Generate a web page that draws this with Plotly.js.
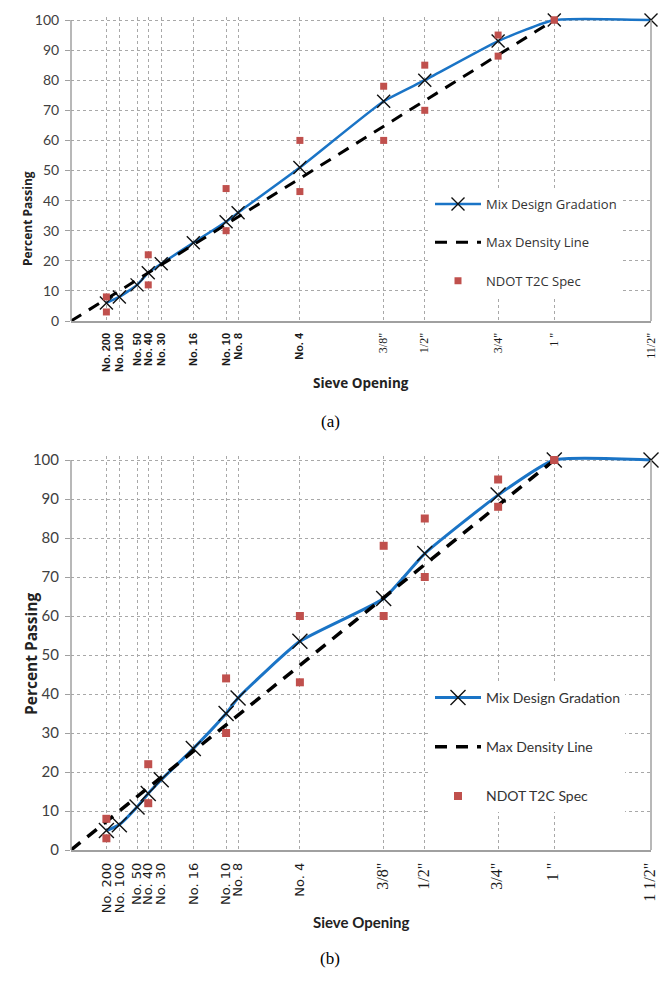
<!DOCTYPE html>
<html>
<head>
<meta charset="utf-8">
<script src="https://cdn.plot.ly/plotly-3.0.1.min.js"></script>
<style>html,body{margin:0;padding:0;background:#fff;}#chart{width:659px;height:985px;}</style>
</head>
<body>
<div id="chart"></div>
<script>
// ---- data ----
const sieveLabelsA = ['No. 200','No. 100','No. 50','No. 40','No. 30','No. 16','No. 10','No. 8','No. 4','3/8"','1/2"','3/4"','1 "','11/2"'];
const sieveLabelsB = ['No. 200','No. 100','No. 50','No. 40','No. 30','No. 16','No. 10','No. 8','No. 4','3/8"','1/2"','3/4"','1 "','1 1/2"'];
const sieveMM = [0.075, 0.15, 0.3, 0.425, 0.6, 1.18, 2.0, 2.36, 4.75, 9.5, 12.5, 19.0, 25.0, 37.5];
const mixA = [6, 8, 12, 16, 19, 26, 33, 36, 51, 73, 80, 93, 100, 100];
const mixB = [5, 6.5, 11, 14.5, 18, 26, 35, 39, 53.5, 64.5, 76, 91, 100, 100];
const maxDensitySize = [0, 25.0];
const maxDensityPass = [0, 100];
const specSieves = [0.075, 0.425, 2.0, 4.75, 9.5, 12.5, 19.0, 25.0];
const specLow = [3, 12, 30, 43, 60, 70, 88, 100];
const specHigh = [8, 22, 44, 60, 78, 85, 95, 100];

// 0.45 power gradation scale
const P = d => Math.pow(d, 0.45);
const serif = (s, sz) => s.includes('"') ?
  '<span style="font-family:Liberation Serif;font-weight:normal;font-size:' + sz + 'px">' + s + '</span>' : s;

const blue = '#1a74c6', red = '#c0504d';

function traces(mix, sfx, leg, big) {
  return [
    {x: sieveMM.map(P), y: mix, xaxis: 'x' + sfx, yaxis: 'y' + sfx, name: 'Mix Design Gradation',
     type: 'scatter', mode: 'lines+markers', line: {color: blue, width: big ? 3 : 2.5, shape: 'spline', smoothing: 0.45},
     marker: {symbol: 'x-thin-open', size: big ? 15 : 13, color: '#111', line: {width: 1.4, color: '#111'}},
     cliponaxis: false, legend: leg, legendgroup: leg + '1'},
    {x: maxDensitySize.map(P), y: maxDensityPass, xaxis: 'x' + sfx, yaxis: 'y' + sfx, name: 'Max Density Line',
     type: 'scatter', mode: 'lines', line: {color: '#000', width: big ? 3.5 : 3, dash: '12px,9px'},
     legend: leg, legendgroup: leg + '2'},
    {x: specSieves.concat(specSieves).map(P), y: specLow.concat(specHigh), xaxis: 'x' + sfx, yaxis: 'y' + sfx,
     name: 'NDOT T2C Spec', type: 'scatter', mode: 'markers',
     marker: {symbol: 'square', size: big ? 8 : 7, color: red}, cliponaxis: false, legend: leg, legendgroup: leg + '3'}
  ];
}

const data = traces(mixA, '', 'legend', false).concat(traces(mixB, '2', 'legend2', true));

const xdom = [71 / 659, 651 / 659];
const py = v => (985 - v) / 985;

function xaxis(anchor, labels, font, serifSize) {
  return {domain: xdom, anchor: anchor, range: [0, P(37.5)], tickmode: 'array',
    tickvals: sieveMM.map(P), ticktext: labels.map(s => serif(s, serifSize)), tickangle: -90, tickfont: font,
    showgrid: true, gridcolor: '#a8a8a8', griddash: 'dot', gridwidth: 1, zeroline: false,
    showline: true, linecolor: '#a0a0a0', linewidth: 1.5, ticks: '', ticklabelstandoff: 6, fixedrange: true};
}
function yaxis(dom, anchor, font) {
  return {domain: dom, anchor: anchor, range: [0, 101], tickmode: 'array', tickvals: [0,10,20,30,40,50,60,70,80,90,100],
    tickfont: font, showgrid: true, gridcolor: '#a8a8a8', griddash: 'dot', gridwidth: 1, zeroline: false,
    showline: false, ticks: 'outside', ticklen: 5, tickcolor: '#a0a0a0',
    ticklabelstandoff: 3, fixedrange: true};
}

const layout = {
  width: 659, height: 985, margin: {l: 0, r: 0, t: 0, b: 0},
  paper_bgcolor: '#fff', plot_bgcolor: '#fff', showlegend: true,
  xaxis: xaxis('y', sieveLabelsA, {family: 'Liberation Sans', size: 11, color: '#1a1a1a', weight: 'bold'}, 12),
  yaxis: yaxis([py(321), py(17)], 'x', {family: 'Lato', size: 14, color: '#404040'}),
  xaxis2: xaxis('y2', sieveLabelsB, {family: 'DejaVu Sans', size: 13, color: '#1a1a1a'}, 16),
  yaxis2: yaxis([py(850), py(456.1)], 'x2', {family: 'Lato', size: 15, color: '#404040'}),
  legend: {x: 430 / 659, y: py(189), xanchor: 'left', yanchor: 'top', bgcolor: '#fff', borderwidth: 0,
    font: {family: 'Open Sans', size: 13, color: '#333'}, traceorder: 'grouped', tracegroupgap: 18.5, itemwidth: 46},
  legend2: {x: 430 / 659, y: py(682), xanchor: 'left', yanchor: 'top', bgcolor: '#fff', borderwidth: 0,
    font: {family: 'Lato', size: 14, color: '#333'}, traceorder: 'grouped', tracegroupgap: 28, itemwidth: 46},
  shapes: [
    {type: 'line', xref: 'x domain', yref: 'y', x0: 1, x1: 1, y0: 0, y1: 100, line: {color: '#a0a0a0', width: 1.5}},
    {type: 'line', xref: 'x2 domain', yref: 'y2', x0: 1, x1: 1, y0: 0, y1: 100, line: {color: '#a0a0a0', width: 1.5}},
    {type: 'line', xref: 'x domain', yref: 'y', x0: 0, x1: 0, y0: 0, y1: 100, line: {color: '#a0a0a0', width: 1.5}},
    {type: 'line', xref: 'x2 domain', yref: 'y2', x0: 0, x1: 0, y0: 0, y1: 100, line: {color: '#a0a0a0', width: 1.5}}
  ],
  annotations: [
    {text: 'Percent Passing', xref: 'paper', yref: 'paper', x: 17 / 659, y: py(169), textangle: -90, showarrow: false,
     font: {family: 'Open Sans', size: 12, color: '#222', weight: 'bold'}},
    {text: 'Sieve Opening', xref: 'paper', yref: 'paper', x: 361 / 659, y: py(383), showarrow: false,
     font: {family: 'Open Sans', size: 13.5, color: '#222', weight: 'bold'}},
    {text: '(a)', xref: 'paper', yref: 'paper', x: 330 / 659, y: py(421), showarrow: false,
     font: {family: 'Liberation Serif', size: 17, color: '#000'}},
    {text: 'Percent Passing', xref: 'paper', yref: 'paper', x: 18 / 659, y: py(654), textangle: -90, showarrow: false,
     font: {family: 'Open Sans', size: 15.5, color: '#222', weight: 'bold'}},
    {text: 'Sieve Opening', xref: 'paper', yref: 'paper', x: 361 / 659, y: py(933), showarrow: false,
     font: {family: 'Lato', size: 15, color: '#222', weight: 'bold'}},
    {text: '(b)', xref: 'paper', yref: 'paper', x: 330 / 659, y: py(970), showarrow: false,
     font: {family: 'Liberation Serif', size: 17, color: '#000'}}
  ]
};

Plotly.newPlot('chart', data, layout, {displayModeBar: false, staticPlot: true});
</script>
</body>
</html>
